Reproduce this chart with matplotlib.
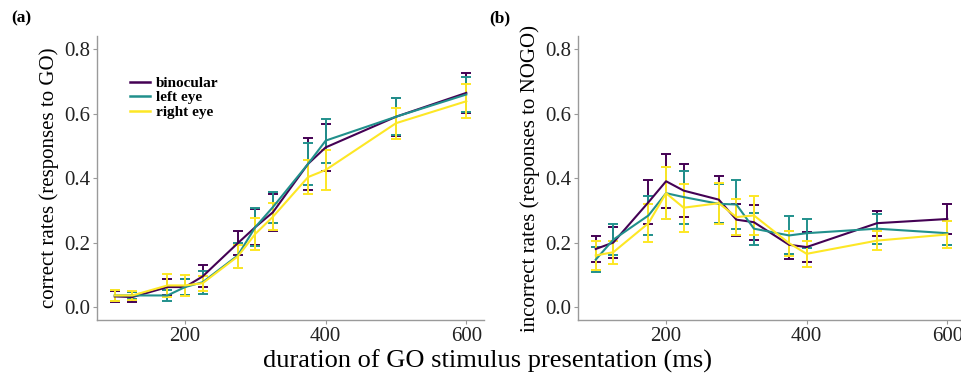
import matplotlib.pyplot as plt
from matplotlib.lines import Line2D

plt.rcParams["font.family"] = "Liberation Serif"

durations = [100, 125, 175, 200, 225, 275, 300, 325, 375, 400, 500, 600]
groups = ["binocular", "left eye", "right eye"]
colors = ["#440154", "#21908C", "#FDE725"]

# (a) correct rates, responses to GO
go_binocular = [0.033, 0.031, 0.062, 0.062, 0.095, 0.198, 0.248, 0.294, 0.444, 0.495, 0.590, 0.664]
go_left = [0.036, 0.036, 0.036, 0.062, 0.077, 0.160, 0.248, 0.310, 0.444, 0.516, 0.590, 0.659]
go_right = [0.036, 0.036, 0.067, 0.067, 0.074, 0.157, 0.227, 0.280, 0.403, 0.425, 0.570, 0.638]
go_se_binocular = [0.018, 0.015, 0.025, 0.025, 0.034, 0.037, 0.055, 0.058, 0.080, 0.073, 0.059, 0.062]
go_se_left = [0.017, 0.012, 0.018, 0.024, 0.035, 0.040, 0.058, 0.048, 0.066, 0.068, 0.058, 0.055]
go_se_right = [0.017, 0.013, 0.035, 0.032, 0.023, 0.035, 0.050, 0.042, 0.052, 0.061, 0.048, 0.053]

# (b) incorrect rates, responses to NOGO
nogo_binocular = [0.180, 0.200, 0.325, 0.390, 0.361, 0.333, 0.271, 0.263, 0.193, 0.186, 0.260, 0.273]
nogo_left = [0.147, 0.209, 0.284, 0.353, 0.341, 0.320, 0.318, 0.243, 0.222, 0.229, 0.243, 0.229]
nogo_right = [0.160, 0.170, 0.260, 0.353, 0.308, 0.322, 0.279, 0.284, 0.198, 0.165, 0.206, 0.225]
nogo_se_binocular = [0.040, 0.048, 0.068, 0.083, 0.082, 0.072, 0.050, 0.054, 0.043, 0.047, 0.039, 0.048]
nogo_se_left = [0.038, 0.048, 0.060, 0.080, 0.082, 0.060, 0.076, 0.050, 0.059, 0.045, 0.046, 0.038]
nogo_se_right = [0.046, 0.035, 0.058, 0.080, 0.075, 0.063, 0.055, 0.060, 0.039, 0.040, 0.030, 0.043]

fig = plt.figure(figsize=(9.62, 3.8), dpi=100)
ax_a = fig.add_axes([0.101, 0.158, 0.402, 0.747])
ax_b = fig.add_axes([0.601, 0.158, 0.402, 0.747])

panels = [
    (ax_a, [go_binocular, go_left, go_right], [go_se_binocular, go_se_left, go_se_right],
     "correct rates (responses to GO)"),
    (ax_b, [nogo_binocular, nogo_left, nogo_right], [nogo_se_binocular, nogo_se_left, nogo_se_right],
     "incorrect rates (responses to NOGO)"),
]

for ax, series, errs, ylabel in panels:
    for name, vals, se, c in zip(groups, series, errs, colors):
        ax.errorbar(durations, vals, yerr=se, color=c, lw=1.5, elinewidth=1.4,
                    capsize=3.5, capthick=1.4)
    ax.set_xlim(75, 625)
    ax.set_ylim(-0.04, 0.84)
    ax.set_xticks([200, 400, 600])
    ax.set_yticks([0.0, 0.2, 0.4, 0.6, 0.8])
    ax.set_yticklabels(["0.0", "0.2", "0.4", "0.6", "0.8"])
    ax.set_ylabel(ylabel, fontsize=15, labelpad=4)
    for s in ["top", "right"]:
        ax.spines[s].set_visible(False)
    for s in ["left", "bottom"]:
        ax.spines[s].set_color("#9a9a9a")
        ax.spines[s].set_linewidth(1.0)
    ax.tick_params(colors="#9a9a9a", labelcolor="#222222", labelsize=15, length=3, width=0.8, pad=2)

handles = [Line2D([], [], color=c, lw=1.8) for c in colors]
ax_a.legend(handles, groups, loc="upper left", bbox_to_anchor=(0.07, 0.88), frameon=False,
            prop={"weight": "bold", "size": 11}, handlelength=1.3,
            handletextpad=0.4, labelspacing=0.05, borderaxespad=0)

fig.text(0.012, 0.94, "(a)", fontsize=12.5, fontweight="bold")
fig.text(0.509, 0.94, "(b)", fontsize=12.5, fontweight="bold")
fig.text(0.507, 0.05, "duration of GO stimulus presentation (ms)", fontsize=19, ha="center", va="center")

fig.savefig("out.png", dpi=100)
